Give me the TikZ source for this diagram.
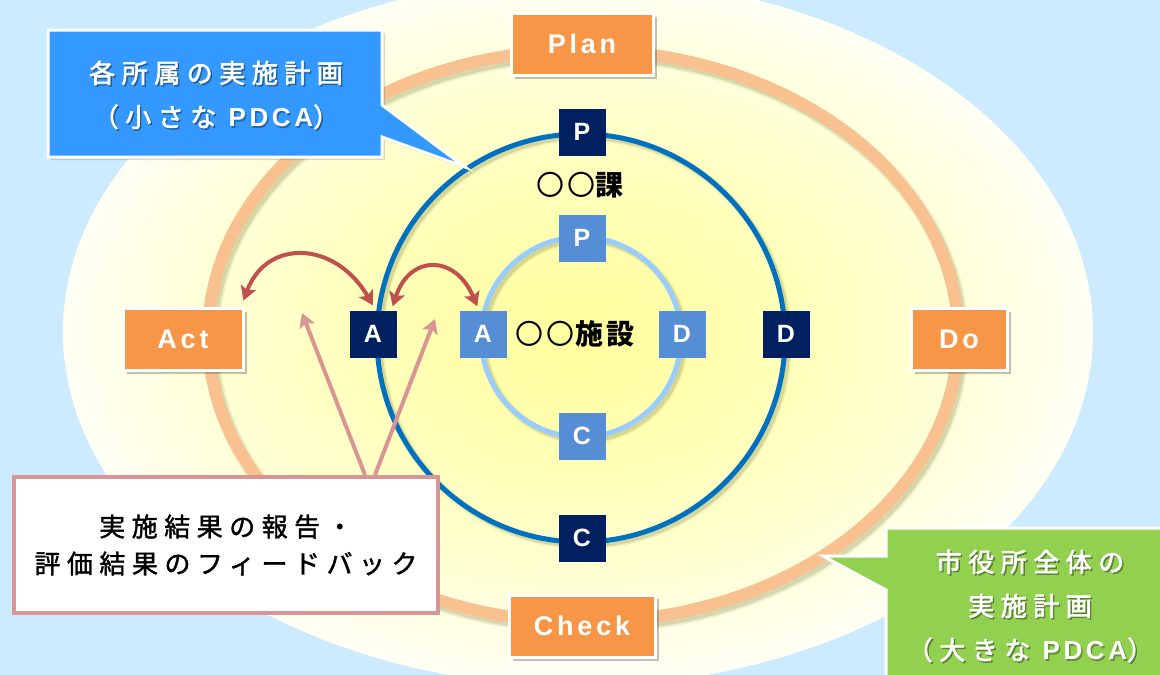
\documentclass[tikz,border=0pt]{standalone}
\usepackage{fontspec}
\usetikzlibrary{arrows.meta,shadows}
\newfontfamily\jpcall[LetterSpace=25,FakeBold=2.5]{Noto Sans CJK JP}
\newfontfamily\jpfb[LetterSpace=25,FakeBold=1.5]{Noto Sans CJK JP}
\newfontfamily\jpc[LetterSpace=14]{Noto Sans CJK JP}
\newfontfamily\lab[LetterSpace=14]{Liberation Sans}
\newfontfamily\lbox{Liberation Sans}
\definecolor{bgc}{HTML}{CCEBFE}
\definecolor{orangeC}{HTML}{F79646}
\definecolor{ringC}{HTML}{F9C090}
\definecolor{navy}{HTML}{002060}
\definecolor{ltbox}{HTML}{558ED5}
\definecolor{blueC}{HTML}{0070C0}
\definecolor{innerC}{HTML}{99CCFF}
\definecolor{redC}{HTML}{C0504D}
\definecolor{pinkC}{HTML}{D99594}
\definecolor{cblue}{HTML}{3399FF}
\definecolor{cgreen}{HTML}{92D050}
\definecolor{shdw}{HTML}{8A8A50}
\definecolor{yelA}{HTML}{FFFF9C}
\definecolor{yelB}{HTML}{FFFFB8}
\definecolor{yelC}{HTML}{FFFFD6}
\definecolor{yelD}{HTML}{FFFFF4}
\pgfdeclareradialshading{paleyel}{\pgfpoint{0bp}{0bp}}{color(0bp)=(yelA); color(10bp)=(yelB); color(18bp)=(yelC); color(25bp)=(yelD); color(50bp)=(yelD)}
\begin{document}
\begin{tikzpicture}[x=1pt,y=-1pt,
  phase/.style={fill=orangeC, draw=white, line width=3, minimum height=62, inner sep=0,
    text=white, font=\lab\bfseries\fontsize{27}{27}\selectfont,
    drop shadow={shadow xshift=4pt, shadow yshift=-4pt, opacity=0.35, fill=black!70}},
  dkbox/.style={fill=navy, minimum width=47, minimum height=47, inner sep=0, text=white,
    font=\lbox\bfseries\fontsize{25}{25}\selectfont},
  ltbox/.style={dkbox, fill=ltbox},
  redarr/.style={draw=redC, line width=4, {Stealth[length=14pt,width=16pt,inset=3pt]}-{Stealth[length=14pt,width=16pt,inset=3pt]}},
  pinkarr/.style={draw=pinkC, line width=4, -{Stealth[length=14pt,width=16pt,inset=3pt]}},
  calltext/.style={text=white, align=center, font=\jpcall\fontsize{26}{44}\selectfont},
  callshadow/.style={calltext, text=black, opacity=0.3},
  centertext/.style={text=black, font=\jpc\fontsize{28}{28}\selectfont}
]
\clip (0,0) rectangle (1160,675);
\fill[bgc] (0,0) rectangle (1160,675);
% big pale ellipse
\shade[shading=paleyel] (578,332) ellipse [x radius=515, y radius=354];
% orange ring with shadow
\draw[shdw, line width=16, opacity=0.12] (586,340) ellipse [x radius=375, y radius=286];
\draw[shdw, line width=12, opacity=0.25] (586,340) ellipse [x radius=375, y radius=286];
\draw[ringC, line width=12] (583,336) ellipse [x radius=375, y radius=286];
% blue circle with shadow
\draw[shdw, line width=8, opacity=0.12] (584,341) circle [radius=204];
\draw[shdw, line width=5, opacity=0.25] (584,341) circle [radius=204];
\draw[blueC, line width=5] (581,338) circle [radius=204];
% inner circle with shadow
\draw[shdw, line width=8, opacity=0.12] (584,340) circle [radius=100];
\draw[shdw, line width=5, opacity=0.25] (584,340) circle [radius=100];
\draw[innerC, line width=5] (581,337) circle [radius=100];

% phase boxes
\node[phase, minimum width=142] (plan) at (582,44) {Plan};
\node[phase, minimum width=120] (act) at (183,339) {Act};
\node[phase, minimum width=96] (do) at (959,339) {Do};
\node[phase, minimum width=146] (check) at (582,626) {Check};

% letter boxes
\node[dkbox] (dP) at (582,132) {P};
\node[dkbox] (dA) at (373,334) {A};
\node[dkbox] (dD) at (786,334) {D};
\node[dkbox] (dC) at (582,538) {C};
\node[ltbox] (lP) at (582,238) {P};
\node[ltbox] (lA) at (483,334) {A};
\node[ltbox] (lD) at (682,334) {D};
\node[ltbox] (lC) at (582,436) {C};

% centre texts
\node[centertext] (ka) at (580,185) {〇〇{\bfseries 課}};
\node[centertext] (shisetsu) at (575,334) {〇〇{\bfseries 施設}};

% red arrows
\draw[redarr] ([shift={(-1,-6)}]act.north east) .. controls +(23,-62) and +(-38,-65) .. ([shift={(0,-5)}]dA.north);
\draw[redarr] ([shift={(-4,-4)}]dA.north east) .. controls +(17,-52) and +(-22,-52) .. ([shift={(18,-4)}]lA.north west);

% feedback box
\node[fill=white, draw=pinkC, line width=4, minimum width=424, minimum height=136, inner sep=0,
  align=center, font=\jpfb\fontsize{26}{37}\selectfont] (fb) at (226,545)
  {実施結果の報告・\\評価結果のフィードバック};
\coordinate (t1) at (302,313);
\coordinate (t2) at (435,319);
\draw[pinkarr] ([xshift=139pt]fb.north) -- (t1);
\draw[pinkarr] ([xshift=149pt]fb.north) -- (t2);

% blue callout
\draw[fill=cblue, draw=white, line width=3, drop shadow={shadow xshift=3pt, shadow yshift=-3pt, opacity=0.25, fill=black!60}]
  (48,30) -- (382,30) -- (382,105) -- (465,167) -- (382,137) -- (382,157) -- (48,157) -- cycle;
\node[callshadow] (bcallS) at (217.5,96.5) {各所属の実施計画\\（小さな {\lab\bfseries PDCA}）};
\node[calltext] (bcall) at (216,95) {各所属の実施計画\\（小さな {\lab\bfseries PDCA}）};

% green callout
\draw[fill=cgreen, draw=white, line width=3, drop shadow={shadow xshift=3pt, shadow yshift=-3pt, opacity=0.25, fill=black!60}]
  (886,528) -- (1180,528) -- (1180,700) -- (886,700) -- (886,590) -- (823,556) -- (886,556) -- cycle;
\node[callshadow] (gcallS) at (1031.5,607.5) {市役所全体の\\実施計画\\（大きな {\lab\bfseries PDCA}）};
\node[calltext] (gcall) at (1030,606) {市役所全体の\\実施計画\\（大きな {\lab\bfseries PDCA}）};
\end{tikzpicture}
\end{document}
